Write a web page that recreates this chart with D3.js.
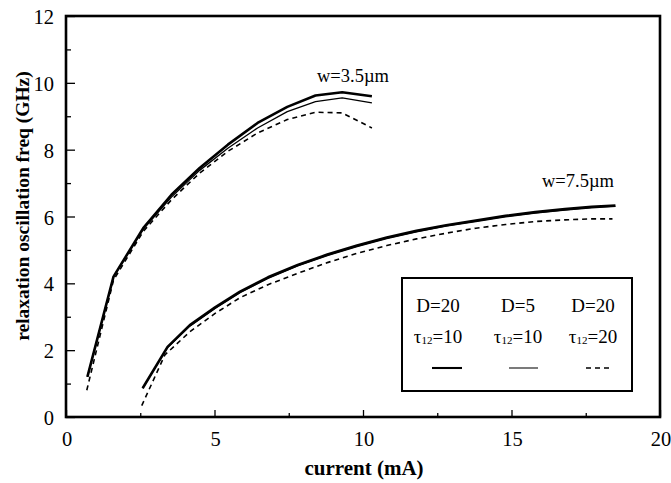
<!DOCTYPE html>
<html>
<head>
<meta charset="utf-8">
<script src="https://cdn.jsdelivr.net/npm/d3@7"></script>
<style>
  html, body { margin: 0; padding: 0; background: #fff; }
  svg { display: block; }
  text { font-family: "Liberation Serif", "Times New Roman", serif; fill: #000; }
</style>
</head>
<body>
<div id="chart"></div>
<script>
// ---------- data ----------
const xTicks = [0, 5, 10, 15, 20];
const yTicks = [0, 2, 4, 6, 8, 10, 12];

// w = 3.5 µm
const currentNarrow = [0.72, 1.6, 2.6, 3.55, 4.5, 5.45, 6.45, 7.45, 8.4, 9.3, 10.3];
const narrowD20t10 = [1.2, 4.2, 5.65, 6.65, 7.45, 8.15, 8.8, 9.28, 9.62, 9.72, 9.6];
const narrowD5t10  = [1.2, 4.2, 5.62, 6.58, 7.38, 8.04, 8.65, 9.14, 9.44, 9.55, 9.4];
const currentNarrowDash = [0.7, 1.6, 2.6, 3.55, 4.5, 5.45, 6.45, 7.45, 8.4, 9.3, 10.3];
const narrowD20t20 = [0.8, 4.1, 5.55, 6.5, 7.3, 7.95, 8.5, 8.9, 9.12, 9.1, 8.65];

// w = 7.5 µm
const currentWide = [2.58, 3.42, 4.17, 5.02, 5.86, 6.8, 7.8, 8.8, 9.8, 10.8, 11.8, 12.8, 13.8, 14.8, 15.8, 16.8, 17.7, 18.5];
const wideD20t10 = [0.86, 2.1, 2.75, 3.28, 3.75, 4.18, 4.55, 4.86, 5.13, 5.37, 5.57, 5.74, 5.88, 6.02, 6.13, 6.22, 6.29, 6.33];
const wideD5t10  = [0.86, 2.08, 2.72, 3.25, 3.72, 4.15, 4.52, 4.83, 5.1, 5.34, 5.54, 5.71, 5.85, 5.99, 6.1, 6.19, 6.26, 6.3];
const currentWideDash = [2.55, 3.33, 4.17, 5.02, 5.86, 6.8, 7.8, 8.8, 9.8, 10.8, 11.8, 12.8, 13.8, 14.8, 15.8, 16.8, 17.7, 18.4];
const wideD20t20 = [0.34, 1.86, 2.55, 3.1, 3.57, 3.96, 4.3, 4.62, 4.9, 5.13, 5.33, 5.5, 5.65, 5.76, 5.85, 5.9, 5.93, 5.93];

const legendRow1 = ["D=20", "D=5", "D=20"];
const legendTau = ["10", "10", "20"];
const styles = ["thick", "thin", "dash"];

// ---------- layout ----------
const W = 671, H = 483;
const svg = d3.select("#chart").append("svg").attr("width", W).attr("height", H);

const x = d3.scaleLinear().domain([0, 20]).range([66, 660]);
const y = d3.scaleLinear().domain([0, 12]).range([417, 16]);

const styleMap = {
  thick: { w: 2.6, dash: null },
  thin:  { w: 1.3, dash: null },
  dash:  { w: 1.6, dash: "5,4" }
};

// ticks (inward)
const gx = svg.append("g").attr("transform", `translate(0,${y(0)})`)
  .call(d3.axisBottom(x).tickValues(d3.range(0, 20.01, 2.5)).tickSize(-7).tickFormat(""));
gx.select(".domain").remove();
gx.selectAll(".tick line").attr("stroke", "#000").attr("stroke-width", 1.3)
  .attr("y2", d => (d % 5 === 0 ? -7 : -4));

const gy = svg.append("g").attr("transform", `translate(${x(0)},0)`)
  .call(d3.axisLeft(y).tickValues(d3.range(0, 12.01, 1)).tickSize(-9).tickFormat(""));
gy.select(".domain").remove();
gy.selectAll(".tick line").attr("stroke", "#000").attr("stroke-width", 1.3)
  .attr("x2", d => (d % 2 === 0 ? 9 : 5));

// tick labels
svg.append("g").selectAll("text").data(xTicks).join("text")
  .attr("x", d => x(d) + 1).attr("y", 446)
  .attr("text-anchor", "middle").attr("font-size", 20.5).text(d => d);
svg.append("g").selectAll("text").data(yTicks).join("text")
  .attr("x", 54).attr("y", d => y(d) + 8)
  .attr("text-anchor", "end").attr("font-size", 20.5).text(d => d);

// frame
svg.append("rect")
  .attr("x", x(0)).attr("y", y(12))
  .attr("width", x(20) - x(0)).attr("height", y(0) - y(12))
  .attr("fill", "none").attr("stroke", "#000").attr("stroke-width", 2.6);

// axis titles
svg.append("text").attr("x", 364).attr("y", 475).attr("text-anchor", "middle")
  .attr("font-size", 21).attr("font-weight", "bold").text("current (mA)");
svg.append("text").attr("transform", "translate(29,206) rotate(-90)")
  .attr("text-anchor", "middle").attr("font-size", 19.5).attr("font-weight", "bold")
  .text("relaxation oscillation freq (GHz)");

// curves
const line = d3.line().x(d => x(d[0])).y(d => y(d[1])).curve(d3.curveLinear);
const series = [
  { xs: currentNarrowDash, ys: narrowD20t20, s: "dash" },
  { xs: currentNarrow, ys: narrowD5t10, s: "thin" },
  { xs: currentNarrow, ys: narrowD20t10, s: "thick" },
  { xs: currentWideDash, ys: wideD20t20, s: "dash" },
  { xs: currentWide, ys: wideD5t10, s: "thin" },
  { xs: currentWide, ys: wideD20t10, s: "thick" }
];
svg.append("g").selectAll("path").data(series).join("path")
  .attr("d", d => line(d.xs.map((v, i) => [v, d.ys[i]])))
  .attr("fill", "none").attr("stroke", "#000")
  .attr("stroke-width", d => styleMap[d.s].w)
  .attr("stroke-dasharray", d => styleMap[d.s].dash)
  .attr("stroke-linejoin", "round");

// curve labels
svg.append("text").attr("x", 317).attr("y", 82).attr("font-size", 18.5).text("w=3.5µm");
svg.append("text").attr("x", 542).attr("y", 187).attr("font-size", 18.5).text("w=7.5µm");

// legend
const lg = svg.append("g");
lg.append("rect").attr("x", 402).attr("y", 278).attr("width", 230).attr("height", 113)
  .attr("fill", "#fff").attr("stroke", "#000").attr("stroke-width", 2);
const colX = [438, 518, 593];
const lineX = [[432, 462], [509, 538], [586, 612]];
lg.selectAll("text.r1").data(legendRow1).join("text").attr("class", "r1")
  .attr("x", (d, i) => colX[i]).attr("y", 312).attr("text-anchor", "middle")
  .attr("font-size", 19).text(d => d);
const r2 = lg.selectAll("text.r2").data(legendTau).join("text").attr("class", "r2")
  .attr("x", (d, i) => colX[i]).attr("y", 343).attr("text-anchor", "middle")
  .attr("font-size", 19);
r2.append("tspan").text("τ");
r2.append("tspan").attr("font-size", 11).attr("dy", 1).text("12");
r2.append("tspan").attr("dy", -1).text(d => "=" + d);
lg.selectAll("line").data(styles).join("line")
  .attr("x1", (d, i) => lineX[i][0]).attr("x2", (d, i) => lineX[i][1])
  .attr("y1", 368).attr("y2", 368)
  .attr("stroke", "#000")
  .attr("stroke-width", d => styleMap[d].w * 0.8)
  .attr("stroke-dasharray", d => styleMap[d].dash);
</script>
</body>
</html>
